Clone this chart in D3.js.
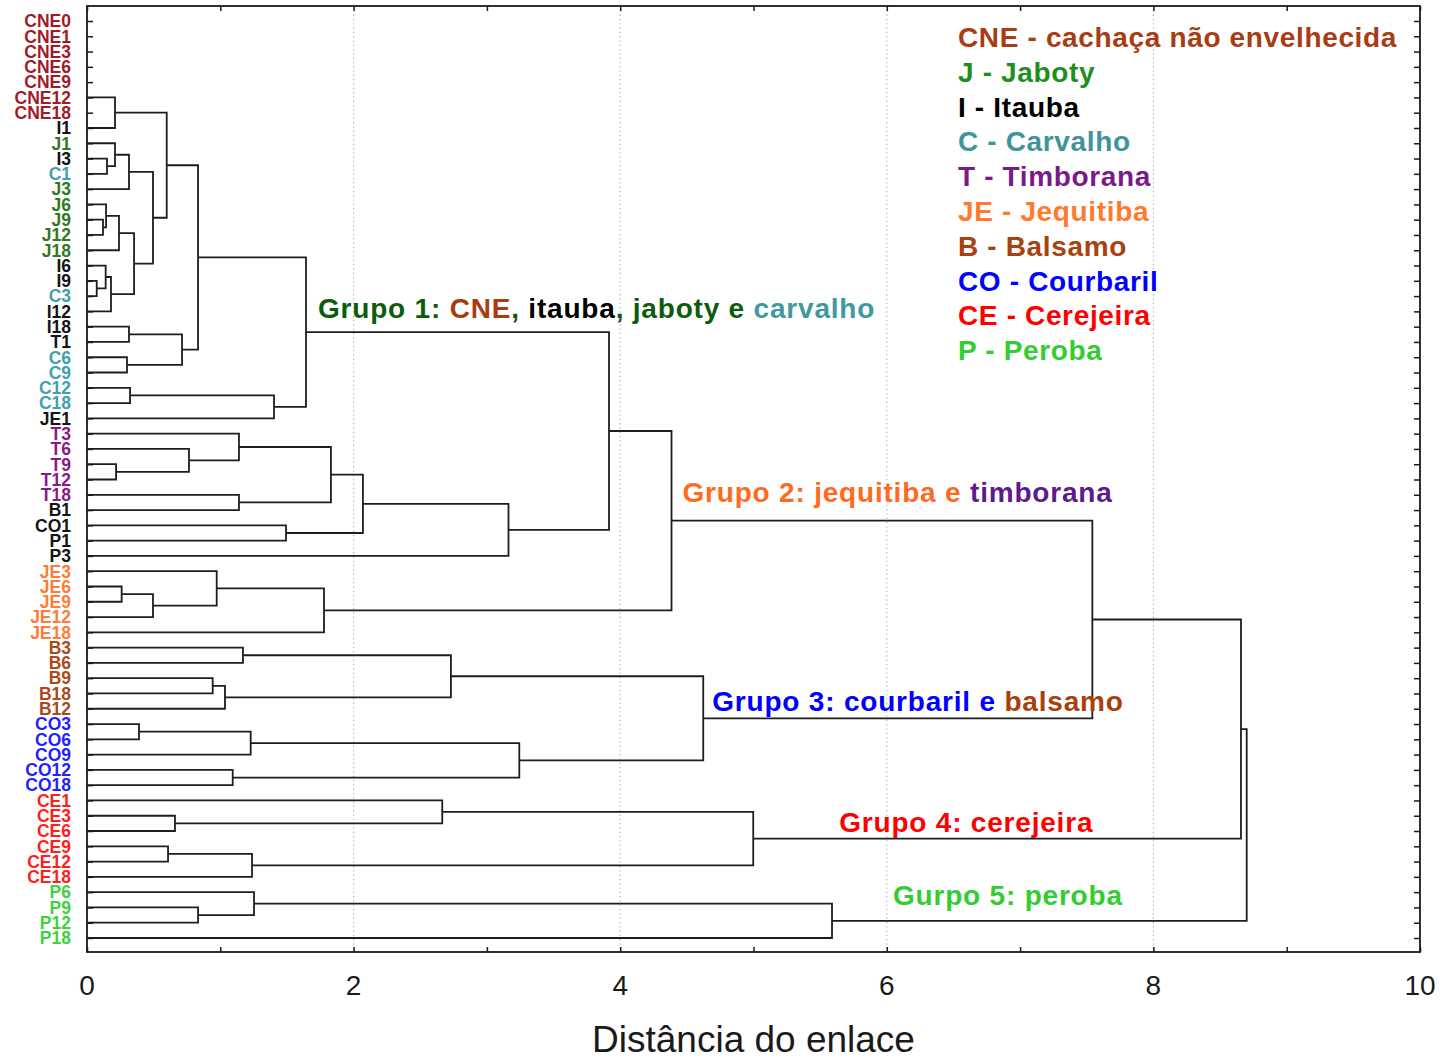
<!DOCTYPE html>
<html><head><meta charset="utf-8">
<script src="https://cdn.jsdelivr.net/npm/d3@7/dist/d3.min.js"></script>
<style>
html,body{margin:0;padding:0;background:#fff;}
svg{display:block;font-family:"Liberation Sans",Arial,sans-serif;}
</style></head>
<body>
<svg id="chart" width="1443" height="1059"></svg>
<script>
// ---------- DATA ----------
const leaves = ["CNE0","CNE1","CNE3","CNE6","CNE9","CNE12","CNE18","I1","J1","I3","C1","J3","J6","J9","J12","J18",
  "I6","I9","C3","I12","I18","T1","C6","C9","C12","C18","JE1","T3","T6","T9","T12","T18","B1","CO1","P1","P3",
  "JE3","JE6","JE9","JE12","JE18","B3","B6","B9","B18","B12","CO3","CO6","CO9","CO12","CO18",
  "CE1","CE3","CE6","CE9","CE12","CE18","P6","P9","P12","P18"];
// labels printed in black (first sampling)
const blackLeaves = ["T1","JE1","B1","CO1","P1","P3"];
// merges: [id, childA, childB, linkage distance]
const merges = [
  ["m1","CNE12","I1",0.21],["m2","I3","C1",0.15],["m3","J1","m2",0.21],["m4","m3","J3",0.315],
  ["m5","J9","J12",0.12],["m6","J6","m5",0.143],["m7","m6","J18",0.24],
  ["m8","I9","C3",0.073],["m9","I6","m8",0.14],["m10","m9","I12",0.18],
  ["m11","m7","m10",0.353],["m12","m4","m11",0.495],["m13","m1","m12",0.598],
  ["m14","I18","T1",0.315],["m15","C6","C9",0.30],["m16","m14","m15",0.713],["m17","m13","m16",0.833],
  ["m18","C12","C18",0.323],["m19","m18","JE1",1.403],["m20","m17","m19",1.643],
  ["m21","T9","T12",0.218],["m22","T6","m21",0.765],["m23","T3","m22",1.14],["m24","T18","B1",1.14],
  ["m25","m23","m24",1.83],["m26","CO1","P1",1.493],["m27","m25","m26",2.07],["m28","m27","P3",3.162],
  ["m29","m20","m28",3.916],
  ["m30","JE6","JE9",0.26],["m31","m30","JE12",0.495],["m32","JE3","m31",0.973],["m33","m32","JE18",1.778],
  ["m34","m29","m33",4.385],
  ["m35","B3","B6",1.17],["m36","B9","B18",0.943],["m37","m36","B12",1.035],["m38","m35","m37",2.73],
  ["m39","CO3","CO6",0.39],["m40","m39","CO9",1.228],["m41","CO12","CO18",1.093],["m42","m40","m41",3.243],
  ["m43","m38","m42",4.623],["m44","m34","m43",7.542],
  ["m45","CE3","CE6",0.66],["m46","CE1","m45",2.665],["m47","CE9","CE12",0.608],["m48","m47","CE18",1.238],
  ["m49","m46","m48",4.998],["m50","m44","m49",8.657],
  ["m51","P9","P12",0.833],["m52","P6","m51",1.253],["m53","m52","P18",5.589],["m54","m50","m53",8.70]
];
const xTicks = [0,1,2,3,4,5,6,7,8,9,10];
const xTickLabels = [0,2,4,6,8,10];
const xTitle = "Distância do enlace";
const legendCodes = ["CNE","J","I","C","T","JE","B","CO","CE","P"];
const legendNames = ["cachaça não envelhecida","Jaboty","Itauba","Carvalho","Timborana","Jequitiba","Balsamo","Courbaril","Cerejeira","Peroba"];
const groupLabels = [
  {anchor:"m20", dy:-14, dx:12, parts:[["Grupo 1: ","g1"],["CNE","CNE"],[", ","g1"],["itauba","I"],[", jaboty e ","g1"],["carvalho","C"]]},
  {anchor:"m34", dy:-19, dx:11, parts:[["Grupo 2: jequitiba e ","JE"],["timborana","Tg"]]},
  {anchor:"m43", dy:-7,  dx:9,  parts:[["Grupo 3: courbaril e ","CO"],["balsamo","B"]]},
  {anchor:"m49", dy:-7,  dx:86, parts:[["Grupo 4: cerejeira","CE"]]},
  {anchor:"m53", dy:-16, dx:61, parts:[["Gurpo 5: peroba","P"]]}
];

(function(){
// ---------- STYLE ----------
const leafColor = {CNE:"#a01a28",J:"#2e7a1e",I:"#141414",C:"#3fa0ae",T:"#8a1a8a",JE:"#ff7b38",B:"#a84a1c",CO:"#1f1fff",CE:"#ff1e1e",P:"#3ed23e"};
const legendColor = {CNE:"#a83c14",J:"#1d8f1d",I:"#000000",C:"#3f9499",T:"#7a1a8a",JE:"#ff7a2e",B:"#a8420f",CO:"#0000ff",CE:"#ff0000",P:"#33cc33"};
const textColor = {g1:"#0d5c0d",CNE:"#a83c10",I:"#000",C:"#3f9a9f",JE:"#ff6a1f",Tg:"#5e1a8c",CO:"#0000ff",B:"#a8400a",CE:"#ff0000",P:"#33cc33"};

const pL=87,pR=1420,pT=6,pB=952;
const svg=d3.select("#chart");
const x=d3.scaleLinear().domain([0,10]).range([pL,pR]);
const y=d3.scalePoint().domain(leaves).range([21,938]).padding(0);

// grid
svg.append("g").selectAll("line").data(xTickLabels.filter(v=>v>0&&v<10)).join("line")
  .attr("x1",d=>x(d)).attr("x2",d=>x(d)).attr("y1",pT).attr("y2",pB)
  .attr("stroke","#b5b5b5").attr("stroke-width",1.2).attr("stroke-dasharray","1.3,3");

// tree
const nodes={};
leaves.forEach(l=>nodes[l]={y:y(l),h:0});
const g=svg.append("g").attr("fill","none").attr("stroke","#1e1e1e").attr("stroke-width",1.8);
merges.forEach(([id,a,b,h])=>{
  const A=nodes[a],B=nodes[b];
  nodes[id]={y:(A.y+B.y)/2,h:h};
  g.append("path").attr("d",`M${x(A.h)},${A.y}H${x(h)}V${B.y}H${x(B.h)}`);
});

// frame
svg.append("rect").attr("x",pL).attr("y",pT).attr("width",pR-pL).attr("height",pB-pT)
  .attr("fill","none").attr("stroke","#1a1a1a").attr("stroke-width",1.8);

// axes ticks (inward)
const xb=svg.append("g").attr("transform",`translate(0,${pB})`)
  .call(d3.axisBottom(x).tickValues(xTicks).tickSize(-5).tickFormat(""));
const xt=svg.append("g").attr("transform",`translate(0,${pT})`)
  .call(d3.axisTop(x).tickValues(xTicks).tickSize(-5).tickFormat(""));
const yl=svg.append("g").attr("transform",`translate(${pL},0)`)
  .call(d3.axisLeft(y).tickSize(-6).tickFormat(""));
const yr=svg.append("g").attr("transform",`translate(${pR},0)`)
  .call(d3.axisRight(y).tickSize(-6).tickFormat(""));
[xb,xt,yl,yr].forEach(a=>{a.select(".domain").remove();a.selectAll("line").attr("stroke","#1a1a1a").attr("stroke-width",1.5);});

// x tick labels
svg.append("g").selectAll("text").data(xTickLabels).join("text")
  .attr("x",d=>x(d)).attr("y",995).attr("text-anchor","middle")
  .attr("font-size",28).attr("fill","#1a1a1a").text(d=>d);
svg.append("text").attr("x",(pL+pR)/2).attr("y",1052).attr("text-anchor","middle")
  .attr("font-size",37).attr("fill","#1a1a1a").text(xTitle);

// leaf labels
function prefix(l){return l.match(/^[A-Z]+/)[0];}
svg.append("g").selectAll("text").data(leaves).join("text")
  .attr("x",71).attr("y",d=>y(d)+6.3).attr("text-anchor","end")
  .attr("font-size",17.5).attr("font-weight","bold")
  .attr("fill",d=>blackLeaves.includes(d)?"#141414":leafColor[prefix(d)])
  .text(d=>d);

// legend
svg.append("g").selectAll("text").data(legendCodes).join("text")
  .attr("x",958).attr("y",(d,i)=>47+i*34.8)
  .attr("font-size",28).attr("font-weight","bold").attr("letter-spacing",0.65)
  .attr("fill",d=>legendColor[d])
  .text((d,i)=>`${d} - ${legendNames[i]}`);

// group labels
groupLabels.forEach(gl=>{
  const n=nodes[gl.anchor];
  const t=svg.append("text").attr("x",x(n.h)+gl.dx).attr("y",n.y+gl.dy)
    .attr("font-size",28).attr("font-weight","bold").attr("letter-spacing",0.8);
  gl.parts.forEach(([s,c])=>t.append("tspan").attr("fill",textColor[c]).text(s));
});
})();
</script>
</body></html>
